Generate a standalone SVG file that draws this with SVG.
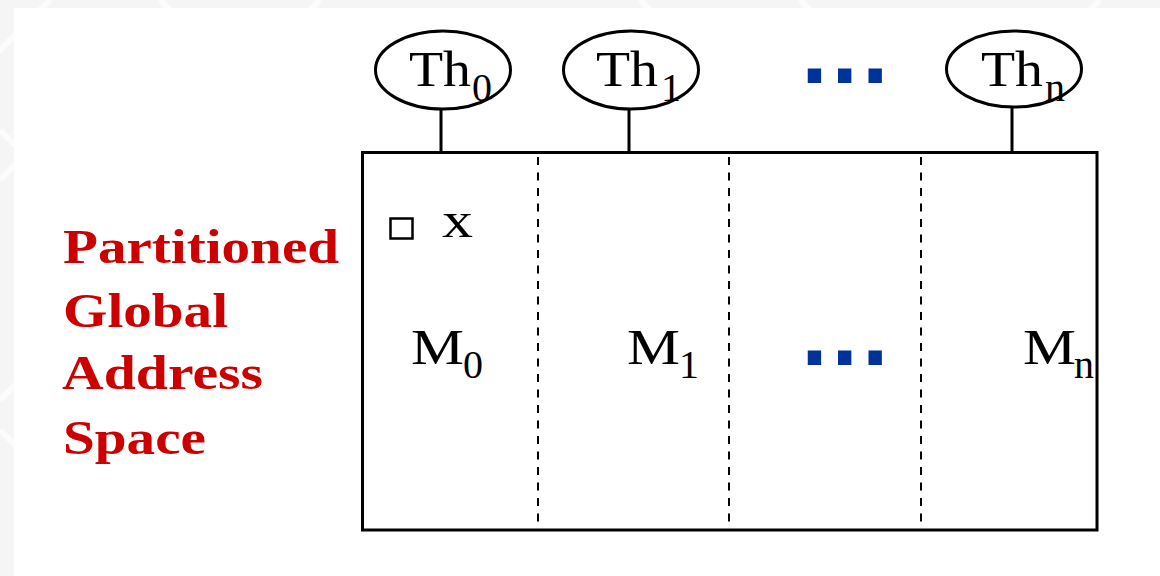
<svg xmlns="http://www.w3.org/2000/svg" width="1160" height="576" viewBox="0 0 1160 576">
<style>
.ell{fill:none;stroke:#000;stroke-width:3}
.conn{stroke:#000;stroke-width:3;fill:none}
.dash{stroke:#000;stroke-width:2;stroke-dasharray:8 7.5;fill:none}
.t{font-family:"Liberation Serif","Times New Roman",serif;fill:#000}
.lab{font-family:"Liberation Serif","Times New Roman",serif;font-weight:bold;font-size:49px;fill:#cc0000}
.dots{font-family:"DejaVu Sans",sans-serif;font-weight:bold;fill:#003399}
</style>
<rect x="0" y="0" width="1160" height="576" fill="#f5f5f5"/>
<g stroke="#ffffff" stroke-width="6" opacity="0.7">
<line x1="50" y1="0" x2="-40" y2="90"/>
<line x1="160" y1="0" x2="200" y2="40"/>
<line x1="320" y1="0" x2="280" y2="40"/>
<line x1="640" y1="0" x2="680" y2="40"/>
<line x1="800" y1="0" x2="840" y2="40"/>
<line x1="1100" y1="0" x2="1060" y2="40"/>
<line x1="0" y1="130" x2="40" y2="170"/>
<line x1="0" y1="180" x2="40" y2="140"/>
<line x1="0" y1="400" x2="40" y2="360"/>
<line x1="0" y1="430" x2="40" y2="470"/>
</g>
<rect x="14" y="8" width="1146" height="568" fill="#ffffff"/>

<g id="label">
<text class="lab" x="63" y="263" textLength="276" lengthAdjust="spacingAndGlyphs">Partitioned</text>
<text class="lab" x="63" y="327" textLength="165" lengthAdjust="spacingAndGlyphs">Global</text>
<text class="lab" x="62" y="389" textLength="201" lengthAdjust="spacingAndGlyphs">Address</text>
<text class="lab" x="63" y="454" textLength="143" lengthAdjust="spacingAndGlyphs">Space</text>
</g>

<g id="memory">
<rect x="362.5" y="152.5" width="734.5" height="377.5" fill="none" stroke="#000" stroke-width="3"/>
<line class="dash" x1="538" y1="157" x2="538" y2="525"/>
<line class="dash" x1="729" y1="157" x2="729" y2="525"/>
<line class="dash" x1="921" y1="157" x2="921" y2="525"/>
</g>

<g id="var-x">
<rect x="390.5" y="218.5" width="22" height="20" fill="none" stroke="#000" stroke-width="2.5"/>
<text class="t" x="442" y="237" font-size="50" textLength="31" lengthAdjust="spacingAndGlyphs">x</text>
</g>

<g id="M0">
<text class="t" x="411" y="364" font-size="50" textLength="53" lengthAdjust="spacingAndGlyphs">M</text>
<text class="t" x="463" y="378" font-size="40">0</text>
</g>
<g id="M1">
<text class="t" x="627" y="364" font-size="50" textLength="53" lengthAdjust="spacingAndGlyphs">M</text>
<text class="t" x="679" y="378" font-size="40">1</text>
</g>
<g id="Mdots">
<text class="dots" x="800" y="365" font-size="76" letter-spacing="1.5">...</text>
</g>
<g id="Mn">
<text class="t" x="1023" y="364" font-size="50" textLength="53" lengthAdjust="spacingAndGlyphs">M</text>
<text class="t" x="1074" y="378" font-size="40">n</text>
</g>

<g id="Th0">
<ellipse class="ell" cx="443" cy="70" rx="67.5" ry="39"/>
<text class="t" x="409" y="86" font-size="50" textLength="62" lengthAdjust="spacingAndGlyphs">Th</text>
<text class="t" x="472" y="101" font-size="40">0</text>
</g>
<g id="Th1">
<ellipse class="ell" cx="631" cy="70" rx="67.5" ry="39"/>
<text class="t" x="596" y="86" font-size="50" textLength="62" lengthAdjust="spacingAndGlyphs">Th</text>
<text class="t" x="661" y="101" font-size="40">1</text>
</g>
<g id="Thdots">
<text class="dots" x="800" y="83" font-size="76" letter-spacing="1.5">...</text>
</g>
<g id="Thn">
<ellipse class="ell" cx="1014" cy="69" rx="67.5" ry="38"/>
<text class="t" x="981" y="86" font-size="50" textLength="62" lengthAdjust="spacingAndGlyphs">Th</text>
<text class="t" x="1045" y="101" font-size="40">n</text>
</g>

<g id="connectors">
<line class="conn" x1="441" y1="109" x2="441" y2="152"/>
<line class="conn" x1="629" y1="109" x2="629" y2="152"/>
<line class="conn" x1="1012" y1="107" x2="1012" y2="152"/>
</g>
</svg>
